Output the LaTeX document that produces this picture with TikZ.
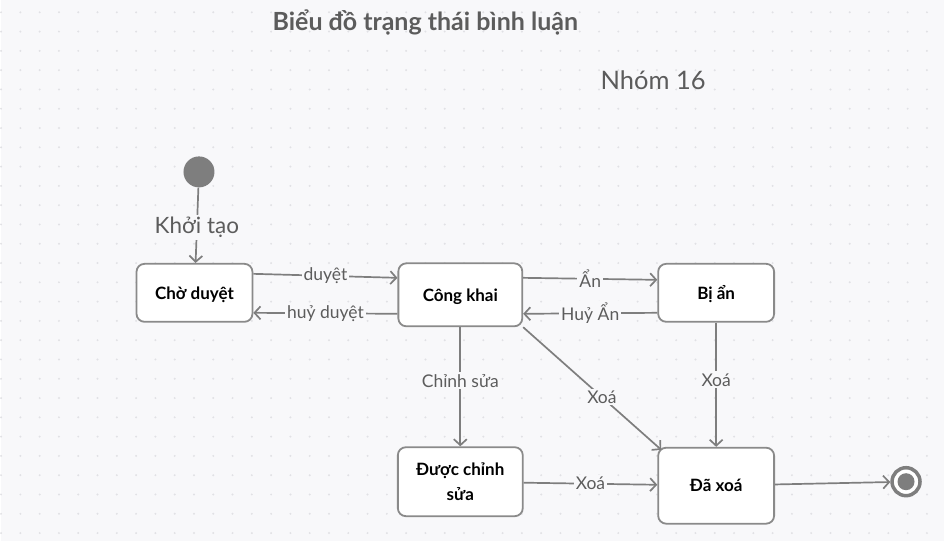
\documentclass[tikz,border=0pt]{standalone}
\usepackage{fontspec}
\setmainfont{Lato}
\usetikzlibrary{arrows.meta}
\definecolor{bgcol}{HTML}{F8F8FA}
\definecolor{dotcol}{HTML}{E1E1E5}
\definecolor{linecol}{HTML}{7E7E7E}
\definecolor{boxcol}{HTML}{8A8A8A}
\definecolor{txtcol}{HTML}{5C5C5C}
\tikzstyle{state} = [rectangle, rounded corners=8pt, minimum width=116pt, minimum height=58pt, text centered, align=center, text depth=0pt, draw=boxcol, line width=1.8pt, fill=white, text=black, font=\fontsize{17}{25}\selectfont\bfseries]
\tikzstyle{arrow} = [draw=linecol, line width=1.7pt, ->, >={Straight Barb[length=6pt, width=13pt]}]
\tikzstyle{lbl} = [fill=bgcol, text=txtcol, inner sep=2pt, font=\fontsize{17.5}{20}\selectfont]

\begin{document}
\begin{tikzpicture}[x=1pt, y=-1pt, node distance=190pt]

        % background with dot grid
        \fill[bgcol] (0,0) rectangle (944,541);
        \foreach \i in {0,...,48}
            \foreach \j in {0,...,27}
                \fill[dotcol] (0.5+19.3*\i, 12.3+19.3*\j) circle (1.1);

        \node (title) [text=txtcol, font=\fontsize{25}{28}\selectfont\bfseries] at (425,22) {Biểu đồ trạng thái bình luận};
        \node (nhom) [text=txtcol, font=\fontsize{25.5}{28}\selectfont] at (653,80) {Nhóm 16};

        \node (start) [circle, fill=linecol, minimum size=31pt, inner sep=0pt] at (198.5,172) {};
        \node (choDuyet) [state] at (194,293) {Chờ duyệt};
        \node (congKhai) [state, right of=choDuyet, xshift=76pt, yshift=-2pt, minimum width=124pt, minimum height=63pt] {Công khai};
        \node (biAn) [state, right of=congKhai, xshift=66pt, yshift=2pt] {Bị ẩn};
        \node (duocSua) [state, below of=congKhai, yshift=3pt, minimum width=125pt, minimum height=69pt] {Được chỉnh\\sửa};
        \node (daXoa) [state, below of=biAn, yshift=-3pt, minimum height=76pt] {Đã xoá};
        \node (end) [circle, draw=linecol, line width=3.5pt, fill=white, minimum size=28pt, inner sep=0pt, right of=daXoa, yshift=4pt] {};
        \fill[linecol] (end.center) circle (8.5);

        \draw [arrow] (start) -- (choDuyet) node[lbl, pos=0.53, font=\fontsize{22.5}{26}\selectfont] {Khởi tạo};
        \draw [arrow] ([yshift=19pt]choDuyet.east) -- ([yshift=17pt]congKhai.west) node[lbl, midway] {duyệt};
        \draw [arrow] ([yshift=-19pt]congKhai.west) -- ([yshift=-20pt]choDuyet.east) node[lbl, midway] {huỷ duyệt};
        \draw [arrow] ([yshift=17pt]congKhai.east) -- ([yshift=13pt]biAn.west) node[lbl, midway] {Ẩn};
        \draw [arrow] ([yshift=-20pt]biAn.west) -- ([yshift=-19pt]congKhai.east) node[lbl, midway] {Huỷ Ẩn};
        \draw [arrow] (congKhai) -- (duocSua) node[lbl, pos=0.45] {Chỉnh sửa};
        \draw [arrow] (congKhai.south east) -- ([xshift=4pt,yshift=-3pt]daXoa.north west) node[lbl, pos=0.57] {Xoá};
        \draw [arrow] (biAn) -- (daXoa) node[lbl, pos=0.46] {Xoá};
        \draw [arrow] (duocSua) -- (daXoa) node[lbl, midway] {Xoá};
        \draw [arrow] (daXoa) -- (end);

    \end{tikzpicture}
\end{document}
